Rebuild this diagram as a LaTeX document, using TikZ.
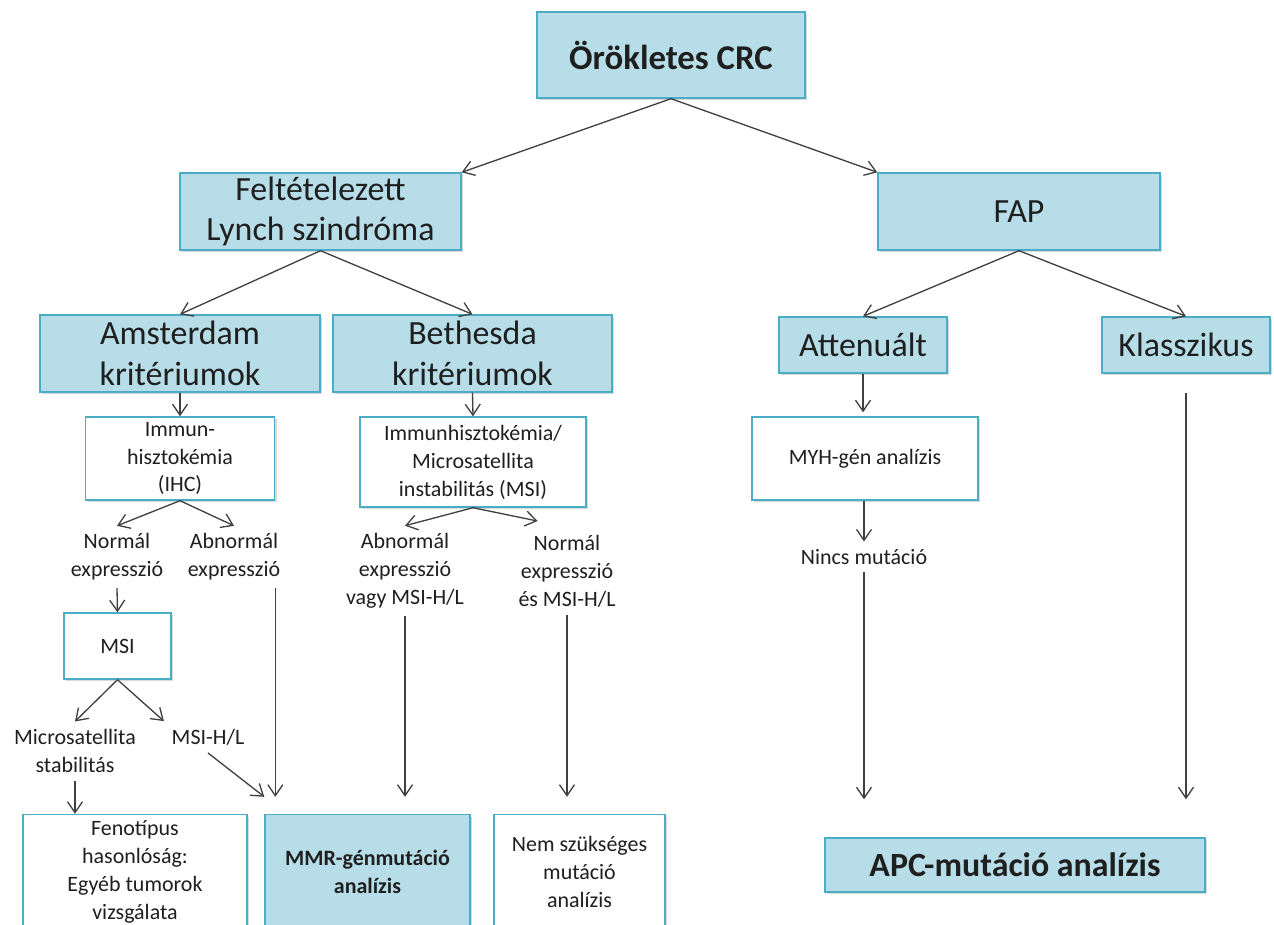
\documentclass[tikz,border=0pt]{standalone}
\usepackage{fontspec}
\setmainfont{Carlito}
\usepackage{tikz}
\usetikzlibrary{arrows.meta, positioning, shadows}
\usepackage{xcolor}
\definecolor{BoxFill}{HTML}{B7DEE8}
\definecolor{BoxLine}{HTML}{4BACC6}
\definecolor{ArrGray}{HTML}{404040}
\definecolor{TxtDark}{HTML}{1F1F1F}

\begin{document}
\begin{tikzpicture}[
  x=0.02cm, y=-0.02cm,
  box/.style={draw=BoxLine, fill=BoxFill, line width=0.8pt, align=center, inner sep=2pt,
              text=TxtDark, font=\fontsize{19.3}{23.2}\selectfont,
              drop shadow={shadow xshift=1.2pt, shadow yshift=-1.2pt, opacity=0.3}},
  wbox/.style={box, fill=white, font=\fontsize{12.5}{15.9}\selectfont},
  lbl/.style={align=center, inner sep=0.15cm, text=TxtDark, font=\fontsize{12.5}{15.9}\selectfont},
  arr/.style={-{Straight Barb[length=2.2mm, width=3mm]}, line width=0.75pt, ArrGray}
]
\useasboundingbox (0,0) rectangle (1274,924);
\clip (0,0) rectangle (1274,924);

% ── TOP LEVELS ────────────────────────────────────────────────────────────────
\node[box, font=\fontsize{19.8}{23.2}\selectfont\bfseries, minimum width=5.36cm, minimum height=1.72cm] (crc) at (671,55) {Örökletes CRC};

\node[box, minimum width=5.62cm, minimum height=1.54cm] (lynch) at (320.5,211.5) {Feltételezett\\Lynch szindróma};
\node[box, minimum width=5.64cm, minimum height=1.54cm] (fap)   at (1019,211.5)  {FAP};

\node[box, minimum width=5.6cm,  minimum height=1.54cm] (amst)  at (180,353.5)   {Amsterdam\\kritériumok};
\node[box, minimum width=5.58cm, minimum height=1.54cm] (beth)  at (472.5,353.5) {Bethesda\\kritériumok};
\node[box, minimum width=3.36cm, minimum height=1.12cm] (att)   at (863,345)     {Attenuált};
\node[box, minimum width=3.36cm, minimum height=1.12cm] (klass) at (1186,345)    {Klasszikus};

\draw[arr] (crc.south) -- (lynch.north east);
\draw[arr] (crc.south) -- (fap.north west);
\draw[arr] (lynch.south) -- (amst.north);
\draw[arr] (lynch.south) -- (beth.north);
\draw[arr] (fap.south) -- (att.north);
\draw[arr] (fap.south) -- (klass.north);

% ── LYNCH: AMSTERDAM ──────────────────────────────────────────────────────────
\node[wbox, minimum width=3.78cm, minimum height=1.66cm] (ihc) at (180,458.5) {Immun-\\hisztokémia\\(IHC)};
\node[lbl] (norm1) at (117,557) {Normál\\expresszió};
\node[lbl] (abn1)  at (234,557) {Abnormál\\expresszió};
\node[wbox, minimum width=2.14cm, minimum height=1.32cm] (msi) at (117.5,646) {MSI};
\node[lbl] (micro) at (75,751)  {Microsatellita\\stabilitás};
\node[lbl] (msihl) at (208,737) {MSI-H/L};

\draw[arr] (amst.south) -- (ihc.north);
\draw[arr] (ihc.south) -- (norm1.north);
\draw[arr] (ihc.south) -- (abn1.north);
\draw[arr] (norm1.south) -- (msi.north);
\draw[arr] (msi.south) -- (micro.north);
\draw[arr] (msi.south) -- (msihl.north west);

% ── LYNCH: BETHESDA ───────────────────────────────────────────────────────────
\node[wbox, minimum width=4.52cm, minimum height=1.8cm] (ihcmsi) at (473,462) {Immunhisztokémia/\\Microsatellita\\instabilitás (MSI)};
\node[lbl] (abn2)  at (405,571) {Abnormál\\expresszió\\vagy MSI-H/L};
\node[lbl] (norm2) at (567,571) {Normál\\expresszió\\és MSI-H/L};

\draw[arr] (beth.south) -- (ihcmsi.north);
\draw[arr] (ihcmsi.south) -- (abn2.north);
\draw[arr, shorten >=0.6cm] (ihcmsi.south) -- (norm2.north);

% ── BOTTOM ROW ────────────────────────────────────────────────────────────────
\node[wbox, minimum width=4.48cm, minimum height=2.3cm] (feno) at (135,872)   {Fenotípus\\hasonlóság:\\Egyéb tumorok\\vizsgálata};
\node[box, font=\fontsize{12.5}{15.9}\selectfont\bfseries, minimum width=4.1cm, minimum height=2.3cm] (mmr) at (367.5,872) {MMR-génmutáció\\analízis};
\node[wbox, minimum width=3.42cm, minimum height=2.3cm] (nem) at (579.5,872) {Nem szükséges\\mutáció\\analízis};

\coordinate (mmrin1) at ([yshift=0.34cm]mmr.north west);
\coordinate (mmrin2) at ([xshift=0.22cm, yshift=0.34cm]mmr.north west);

\draw[arr] (micro.south) -- (micro.south |- feno.north);
\draw[arr] (msihl.south) -- (mmrin1);
\draw[arr] (abn1.south -| mmrin2) -- (mmrin2);
\draw[arr, shorten >=0.34cm] (abn2.south) -- (abn2.south |- mmr.north);
\draw[arr, shorten >=0.34cm] (norm2.south) -- (norm2.south |- nem.north);

% ── FAP ───────────────────────────────────────────────────────────────────────
\node[wbox, minimum width=4.52cm, minimum height=1.66cm] (myh) at (865,458.5) {MYH-gén analízis};
\node[lbl] (nincs) at (864,557) {Nincs mutáció};
\node[box, font=\fontsize{19.3}{23.2}\selectfont\bfseries, minimum width=7.6cm, minimum height=1.08cm] (apc) at (1015,865) {APC-mutáció analízis};

\draw[arr, shorten >=0.08cm] (att.south) -- (att.south |- myh.north);
\draw[arr] (myh.south -| nincs.north) -- (nincs.north);
\draw[arr, shorten >=0.76cm] (nincs.south) -- (nincs.south |- apc.north);
\draw[arr, shorten <=0.38cm, shorten >=0.76cm] (klass.south) -- (klass.south |- apc.north);

\end{tikzpicture}
\end{document}
